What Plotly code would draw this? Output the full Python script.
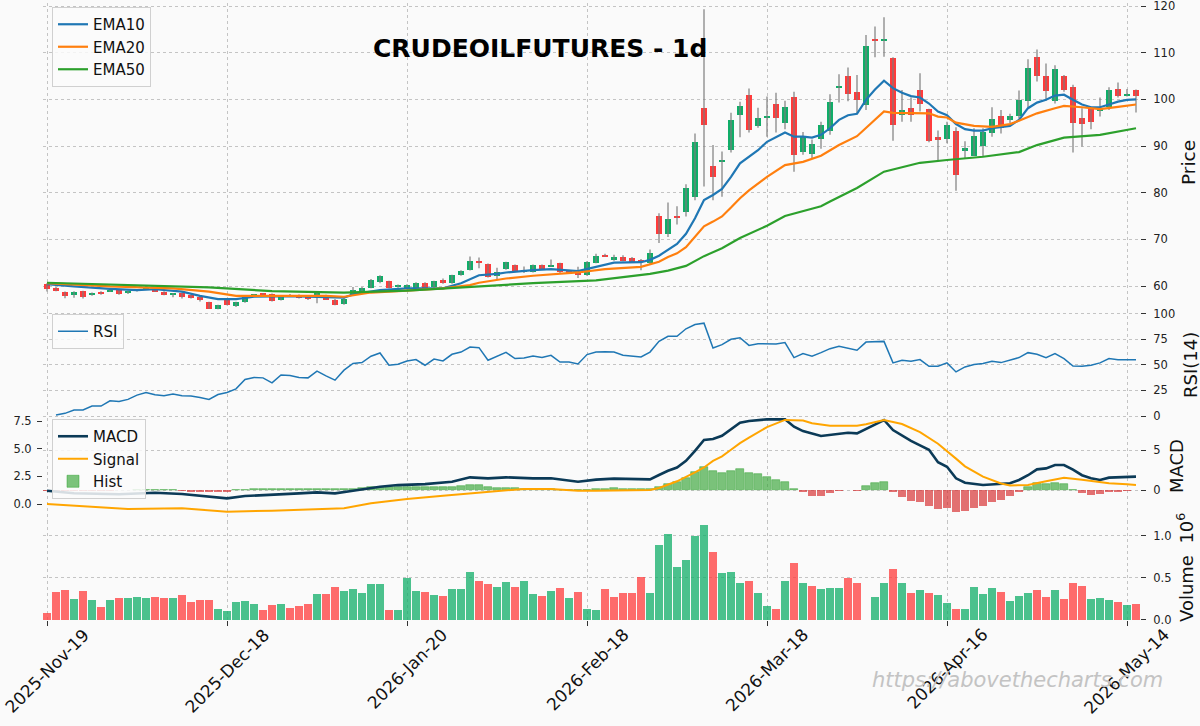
import plotly.graph_objects as go

# ---------------- data ----------------
tick_idx = [0, 20, 40, 60, 80, 100, 120]
tick_labels = ["2025-Nov-19", "2025-Dec-18", "2026-Jan-20", "2026-Feb-18",
               "2026-Mar-18", "2026-Apr-16", "2026-May-14"]

opens = [60.4, 59.6, 58.7, 58.0, 58.9, 58.0, 58.5, 58.8, 59.1, 58.4,
         59.0, 59.5, 59.3, 58.8, 58.3, 58.5, 58.0, 57.7, 56.5, 55.0,
         56.9, 55.8, 56.5, 57.9, 58.3, 58.3, 57.0, 57.9, 58.0, 57.5,
         57.9, 58.0, 57.1, 56.2, 58.1, 58.5, 59.6, 60.8, 61.0, 59.9,
         59.3, 59.6, 60.7, 59.7, 61.3, 60.6, 62.3, 63.4, 65.3, 64.7,
         62.2, 63.6, 64.4, 63.0, 63.0, 64.4, 64.2, 64.9, 63.2, 63.1,
         62.3, 65.0, 66.7, 65.6, 66.3, 65.9, 65.6, 64.9, 75.0, 71.1,
         74.8, 75.9, 79.0, 98.1, 85.8, 86.7, 89.1, 96.6, 100.9, 94.3,
         95.9, 99.0, 94.9, 100.4, 88.7, 88.3, 91.4, 93.3, 102.4, 105.0,
         101.6, 98.8, 112.9, 112.6, 108.8, 96.6, 98.1, 102.0, 97.9, 92.0,
         91.4, 93.2, 88.9, 87.9, 89.9, 92.7, 96.5, 95.6, 96.5, 99.7,
         109.0, 105.0, 99.7, 104.9, 102.7, 96.1, 98.1, 97.6, 98.3, 102.2,
         100.8, 102.0]
highs = [60.6, 59.8, 58.8, 58.9, 59.0, 58.6, 58.9, 59.3, 59.3, 59.0,
         59.3, 60.0, 59.4, 58.9, 58.5, 58.6, 58.1, 57.8, 56.6, 56.0,
         57.0, 56.6, 57.8, 58.3, 58.5, 58.4, 58.0, 58.3, 58.2, 57.9,
         58.6, 58.1, 57.2, 57.4, 59.8, 59.8, 61.5, 62.3, 61.1, 60.3,
         60.4, 60.8, 60.8, 61.1, 61.6, 62.4, 63.4, 66.3, 66.1, 64.8,
         63.9, 65.2, 64.6, 64.2, 64.6, 64.6, 65.7, 65.0, 63.4, 64.1,
         65.3, 66.9, 66.9, 66.7, 66.6, 66.2, 65.8, 67.8, 75.6, 77.9,
         77.1, 81.8, 92.7, 119.3, 90.2, 88.8, 97.1, 99.5, 102.3, 98.2,
         100.6, 101.4, 99.7, 101.6, 93.0, 91.4, 95.2, 101.1, 105.4, 106.8,
         105.2, 113.8, 115.6, 117.6, 109.0, 102.0, 100.4, 105.6, 98.0, 93.3,
         95.2, 94.0, 91.0, 93.8, 93.8, 98.3, 97.7, 96.9, 101.9, 108.6,
         110.7, 107.7, 107.3, 105.2, 103.1, 98.1, 98.4, 100.4, 102.6, 103.6,
         102.2, 102.1]
lows = [58.8, 58.9, 57.4, 57.5, 57.3, 57.9, 58.1, 58.7, 58.1, 58.3,
        58.8, 59.4, 58.7, 58.0, 57.6, 57.3, 57.3, 56.7, 55.1, 55.0,
        55.9, 55.5, 56.4, 57.8, 58.0, 56.7, 56.9, 57.7, 57.3, 57.0,
        56.3, 57.0, 55.9, 56.0, 58.0, 58.4, 59.5, 60.6, 59.5, 59.6,
        59.2, 59.5, 59.3, 59.6, 60.5, 60.5, 62.2, 63.3, 63.8, 61.8,
        61.3, 63.5, 63.0, 62.8, 62.9, 63.5, 64.1, 62.8, 62.8, 61.7,
        62.2, 64.9, 66.2, 65.4, 65.3, 65.0, 63.4, 64.7, 69.2, 70.5,
        73.2, 74.9, 78.4, 81.3, 78.4, 79.1, 88.6, 91.9, 92.9, 93.9,
        92.0, 92.9, 93.6, 84.5, 88.1, 87.4, 89.4, 92.4, 99.3, 99.6,
        96.9, 97.7, 109.0, 109.1, 91.1, 95.2, 95.2, 97.4, 90.8, 87.0,
        90.6, 80.4, 87.2, 87.9, 87.7, 92.0, 92.7, 94.9, 95.9, 98.3,
        103.8, 99.7, 99.1, 101.6, 88.6, 89.9, 93.6, 96.3, 97.7, 100.4,
        100.6, 97.2]
closes = [59.3, 59.0, 57.9, 58.8, 57.7, 58.5, 58.4, 59.2, 58.3, 58.9,
          59.1, 59.6, 58.8, 58.1, 58.4, 57.6, 57.5, 56.9, 55.1, 55.9,
          56.0, 56.5, 57.7, 58.2, 58.1, 56.8, 57.9, 57.8, 57.4, 57.3,
          58.5, 57.1, 56.0, 57.3, 59.1, 59.5, 61.2, 62.1, 59.6, 60.0,
          60.3, 60.7, 59.4, 61.0, 60.6, 62.3, 63.2, 65.4, 65.1, 62.0,
          63.1, 65.1, 63.1, 63.5, 64.4, 63.6, 64.6, 62.9, 63.0, 62.3,
          65.1, 66.4, 66.3, 66.2, 65.4, 65.2, 65.1, 67.0, 71.1, 74.4,
          74.6, 80.9, 90.8, 94.6, 83.3, 87.1, 95.6, 98.6, 93.4, 96.1,
          96.4, 96.1, 98.3, 88.0, 92.1, 90.4, 94.4, 99.5, 102.9, 101.1,
          99.9, 111.5, 112.4, 112.8, 94.4, 97.7, 96.6, 99.0, 91.0, 91.2,
          94.5, 83.8, 89.6, 92.1, 93.1, 95.8, 93.8, 96.4, 99.9, 106.8,
          104.9, 101.8, 106.4, 102.1, 95.0, 94.7, 95.2, 97.9, 102.1, 100.7,
          101.1, 100.8]
volume_m = [0.08, 0.33, 0.35, 0.24, 0.34, 0.23, 0.15, 0.23, 0.26, 0.26,
            0.27, 0.26, 0.27, 0.26, 0.26, 0.29, 0.21, 0.23, 0.23, 0.13,
            0.10, 0.21, 0.22, 0.18, 0.11, 0.17, 0.18, 0.14, 0.16, 0.19,
            0.30, 0.30, 0.39, 0.34, 0.36, 0.31, 0.42, 0.42, 0.11, 0.11,
            0.50, 0.34, 0.33, 0.29, 0.28, 0.36, 0.36, 0.57, 0.46, 0.42,
            0.39, 0.45, 0.39, 0.46, 0.30, 0.28, 0.34, 0.37, 0.26, 0.33,
            0.13, 0.11, 0.36, 0.27, 0.32, 0.31, 0.51, 0.32, 0.89, 1.02,
            0.62, 0.71, 1.00, 1.12, 0.80, 0.55, 0.56, 0.44, 0.46, 0.31,
            0.16, 0.13, 0.46, 0.67, 0.43, 0.40, 0.36, 0.38, 0.38, 0.50,
            0.44, 0.00, 0.27, 0.44, 0.60, 0.43, 0.32, 0.35, 0.32, 0.29,
            0.20, 0.13, 0.13, 0.39, 0.30, 0.37, 0.33, 0.22, 0.28, 0.32,
            0.35, 0.27, 0.35, 0.24, 0.43, 0.40, 0.25, 0.26, 0.23, 0.21,
            0.17, 0.18]

ema10_idx = [0, 3, 7, 10, 12, 15, 17, 19, 21, 23, 27, 31, 33, 34, 37, 40, 44, 46, 48, 50,
             51, 54, 56, 59, 61, 63, 66, 67, 68, 69, 70, 71, 72, 73, 74, 75, 76, 77, 79, 80,
             82, 83, 84, 85, 86, 87, 88, 89, 90, 91, 92, 93, 94, 95, 96, 97, 98, 99, 100, 101,
             102, 103, 104, 105, 106, 107, 108, 109, 110, 111, 112, 113, 114, 115, 116, 117, 118, 119, 120, 121]
ema10_val = [60.4, 59.9, 59.4, 59.1, 59.3, 58.8, 57.9, 57.2, 57.2, 57.7, 57.8, 57.7, 57.5, 58.2, 59.1, 59.5, 59.5, 60.6, 62.3, 62.6,
             62.9, 63.4, 63.6, 63.2, 64.1, 65.0, 65.1, 65.6, 66.5, 67.8, 69.0, 71.2, 74.5, 78.4, 79.5, 80.8, 83.4, 86.3, 89.1, 90.9,
             92.9, 92.0, 92.0, 91.8, 92.4, 93.8, 95.6, 96.6, 96.9, 99.9, 102.1, 104.0, 102.4, 101.4, 100.7, 100.4, 99.1, 97.4, 96.6, 94.7,
             93.6, 93.3, 93.3, 93.8, 94.1, 94.3, 95.6, 98.1, 99.3, 99.9, 100.8, 101.0, 99.9, 98.9, 98.3, 98.3, 98.9, 99.5, 99.9, 100.0]
ema20_idx = [0, 7, 14, 18, 21, 27, 31, 33, 36, 40, 44, 47, 48, 51, 54, 59, 62, 66, 68, 69,
             70, 71, 72, 73, 74, 75, 76, 77, 78, 79, 80, 82, 84, 86, 88, 90, 91, 92, 93, 94,
             97, 98, 99, 100, 101, 103, 105, 107, 108, 110, 112, 113, 115, 117, 119, 121]
ema20_val = [60.6, 59.9, 59.5, 58.8, 57.9, 57.9, 57.9, 57.7, 58.6, 59.0, 59.5, 60.2, 60.7, 61.6, 62.2, 62.9, 63.6, 64.1, 65.2, 66.2,
             67.0, 68.3, 70.5, 72.8, 73.8, 74.9, 76.8, 78.8, 80.5, 82.0, 83.4, 85.9, 86.6, 87.9, 90.2, 92.1, 93.8, 95.6, 97.4, 97.1,
             97.1, 97.0, 96.3, 96.1, 95.0, 94.3, 94.1, 94.7, 95.4, 97.0, 98.1, 98.6, 98.3, 97.9, 98.4, 98.9]
ema50_idx = [0, 10, 18, 25, 33, 40, 48, 54, 61, 67, 69, 71, 73, 75, 77, 80, 82, 84, 86, 87,
             90, 93, 97, 100, 104, 108, 110, 113, 117, 121]
ema50_val = [60.7, 60.1, 59.7, 58.9, 58.6, 59.0, 59.9, 60.6, 61.2, 62.6, 63.3, 64.3, 66.4, 68.1, 70.3, 72.9, 75.0, 76.1, 77.1, 78.1,
             81.0, 84.5, 86.4, 87.0, 87.7, 88.7, 90.2, 91.8, 92.4, 93.8]

rsi = [None, 1.0, 2.6, 5.8, 5.8, 9.7, 9.7, 14.9, 14.2, 16.2,
       20.4, 23.0, 20.7, 19.7, 21.4, 19.7, 19.4, 18.1, 16.2, 21.0,
       23.0, 26.5, 35.6, 37.6, 37.2, 32.4, 40.1, 39.5, 37.6, 37.2,
       43.7, 39.1, 35.0, 44.7, 51.2, 52.1, 58.3, 61.5, 49.5, 50.5,
       53.7, 55.0, 49.5, 55.6, 53.7, 60.2, 62.4, 67.3, 66.7, 54.4,
       58.3, 62.1, 56.0, 56.6, 58.5, 57.0, 59.2, 52.7, 52.7, 50.8,
       59.9, 62.4, 62.8, 62.4, 59.2, 58.2, 57.6, 62.4, 72.8, 77.7,
       77.7, 85.1, 89.3, 90.6, 66.3, 69.6, 74.8, 76.4, 68.9, 70.6,
       70.6, 70.2, 71.6, 57.0, 60.9, 58.3, 61.8, 65.7, 68.0, 66.3,
       64.1, 72.1, 72.5, 72.8, 51.8, 54.4, 53.4, 55.0, 48.5, 48.5,
       51.8, 43.0, 47.9, 50.2, 51.2, 53.4, 52.1, 54.4, 57.0, 61.8,
       60.2, 57.0, 60.9, 56.0, 48.8, 48.5, 49.5, 51.8, 56.0, 55.0,
       55.0, 55.0]

macd_idx = [0, 3, 8, 12, 15, 18, 20, 22, 25, 28, 30, 32, 34, 37, 39, 42, 45, 47, 49, 51,
            54, 56, 59, 61, 63, 65, 67, 68, 69, 70, 71, 72, 73, 74, 75, 77, 78, 80, 82, 83,
            84, 86, 88, 89, 90, 91, 93, 94, 95, 96, 97, 98, 99, 100, 101, 102, 104, 105, 107, 108,
            109, 110, 111, 112, 113, 114, 115, 116, 117, 118, 120, 121]
macd_val = [1.2, 0.97, 0.88, 1.02, 0.9, 0.66, 0.51, 0.72, 0.87, 0.96, 1.05, 0.96, 1.2, 1.56, 1.71, 1.8, 2.01, 2.41, 2.32, 2.41,
            2.32, 2.32, 2.01, 2.2, 2.29, 2.26, 2.23, 2.62, 3.0, 3.3, 3.9, 4.8, 5.78, 5.87, 6.17, 7.34, 7.5, 7.65, 7.65, 6.98,
            6.59, 6.14, 6.3, 6.44, 6.38, 6.8, 7.59, 6.68, 6.2, 5.7, 5.3, 4.9, 3.77, 3.37, 2.32, 1.92, 1.72, 1.78, 1.87, 2.17,
            2.6, 3.13, 3.22, 3.52, 3.52, 3.1, 2.6, 2.32, 2.17, 2.38, 2.47, 2.47]
signal_idx = [0, 3, 9, 15, 20, 25, 29, 33, 36, 40, 44, 47, 50, 53, 56, 59, 61, 67, 68, 70,
              72, 73, 74, 75, 76, 77, 78, 80, 82, 84, 85, 87, 90, 91, 93, 95, 97, 98, 99, 101,
              102, 104, 106, 107, 109, 111, 113, 115, 118, 120, 121]
signal_val = [0.0, -0.15, -0.45, -0.39, -0.69, -0.6, -0.48, -0.39, 0.06, 0.45, 0.75, 0.97, 1.2, 1.36, 1.36, 1.2, 1.2, 1.26, 1.45, 2.05,
              2.85, 3.3, 3.9, 4.3, 4.9, 5.5, 6.0, 6.95, 7.6, 7.55, 7.3, 7.07, 7.07, 7.2, 7.58, 7.23, 6.5, 6.0, 5.45, 4.1,
              3.4, 2.47, 1.85, 1.68, 1.72, 2.06, 2.38, 2.2, 1.88, 1.78, 1.72]
hist = [-0.12, -0.12, -0.10, -0.12, -0.10, -0.10, -0.08, -0.08, -0.05, -0.05,
        0.04, 0.05, 0.05, 0.05, 0.04, -0.15, -0.20, -0.22, -0.25, -0.25,
        -0.22, 0.03, 0.06, 0.08, 0.08, 0.08, 0.08, 0.08, 0.08, 0.08,
        0.08, 0.08, 0.08, 0.08, 0.10, 0.25, 0.42, 0.40, 0.42, 0.38,
        0.40, 0.42, 0.40, 0.38, 0.35, 0.40, 0.55, 0.62, 0.62, 0.42,
        0.30, 0.30, 0.30, 0.17, 0.17, 0.17, 0.17, 0.05, 0.05, 0.05,
        0.05, 0.08, 0.12, 0.20, 0.15, 0.10, 0.10, 0.15, 0.35, 0.75,
        0.96, 1.46, 2.20, 2.90, 2.37, 2.17, 2.37, 2.58, 2.17, 2.00,
        1.67, 1.25, 1.04, 0.13, -0.29, -0.70, -0.70, -0.42, -0.08, -0.02,
        -0.08, 0.50, 0.83, 1.04, -0.21, -0.83, -1.33, -1.46, -2.00, -2.33,
        -2.29, -2.75, -2.62, -2.29, -2.00, -1.46, -1.25, -0.75, -0.29, 0.42,
        0.83, 0.71, 0.92, 0.71, 0.02, -0.42, -0.62, -0.54, -0.29, -0.21,
        -0.08, -0.04]

# ---------------- styling / geometry ----------------
W, H = 1200, 726
BG = "#fafafa"
FONT = "DejaVu Sans"
UP, DN = "#10ad68", "#ff3b3b"
UP_V, DN_V = "rgba(16,173,104,0.75)", "rgba(255,59,59,0.75)"
GRID = dict(showgrid=True, gridcolor="#c4c4c4", griddash="dot", gridwidth=1)


def py(p):
    return 1 - p / H


X0, X1 = 43, 1140
XR = [(X0 - 47) / 9, (X1 - 47) / 9]

n = len(closes)
idx = list(range(n))

cand_col = [UP if c >= o else DN for o, c in zip(opens, closes)]
vol_col = []
for i in idx:
    ref = opens[0] if i == 0 else closes[i - 1]
    vol_col.append(UP_V if closes[i] >= ref else DN_V)

fig = go.Figure()

# ---- price panel ----
wx, wy = [], []
for i in idx:
    wx += [i, i, None]
    wy += [lows[i], highs[i], None]
fig.add_trace(go.Scatter(x=wx, y=wy, mode="lines", line=dict(color="#7d7d7d", width=1.2),
                         xaxis="x", yaxis="y", showlegend=False, hoverinfo="skip"))
mind = 0.22
base, hgt = [], []
for o, c in zip(opens, closes):
    lo, hi = min(o, c), max(o, c)
    if hi - lo < mind:
        m = (hi + lo) / 2
        lo, hi = m - mind / 2, m + mind / 2
    base.append(lo)
    hgt.append(hi - lo)
fig.add_trace(go.Bar(x=idx, y=hgt, base=base, width=0.74, marker=dict(color=cand_col, line=dict(width=0)),
                     xaxis="x", yaxis="y", showlegend=False, hoverinfo="skip"))
for nm, ix, vals, col in [("EMA10", ema10_idx, ema10_val, "#1f77b4"),
                          ("EMA20", ema20_idx, ema20_val, "#ff7f0e"),
                          ("EMA50", ema50_idx, ema50_val, "#2ca02c")]:
    fig.add_trace(go.Scatter(x=ix, y=vals, mode="lines", name=nm, line=dict(color=col, width=2.2),
                             xaxis="x", yaxis="y", legend="legend"))

# ---- RSI panel ----
fig.add_trace(go.Scatter(x=idx, y=rsi, mode="lines", name="RSI", line=dict(color="#1f77b4", width=1.5),
                         xaxis="x2", yaxis="y2", legend="legend2"))

# ---- MACD panel ----
fig.add_trace(go.Scatter(x=macd_idx, y=macd_val, mode="lines", name="MACD", line=dict(color="#0b3a57", width=2.6),
                         xaxis="x3", yaxis="y4", legend="legend3", legendrank=1))
fig.add_trace(go.Scatter(x=signal_idx, y=signal_val, mode="lines", name="Signal", line=dict(color="#ffa500", width=2.0),
                         xaxis="x3", yaxis="y4", legend="legend3", legendrank=2))
hp_x = [i for i in idx if hist[i] >= 0]
hp_y = [hist[i] for i in hp_x]
hn_x = [i for i in idx if hist[i] < 0]
hn_y = [hist[i] for i in hn_x]
fig.add_trace(go.Bar(x=hp_x, y=hp_y, width=0.8, name="Hist",
                     marker=dict(color="rgba(44,160,44,0.62)", line=dict(color="rgba(44,160,44,0.8)", width=0.6)),
                     xaxis="x3", yaxis="y3", legend="legend3", legendrank=3))
fig.add_trace(go.Bar(x=hn_x, y=hn_y, width=0.8, showlegend=False,
                     marker=dict(color="rgba(214,39,40,0.65)", line=dict(width=0)),
                     xaxis="x3", yaxis="y3"))

# ---- volume panel ----
fig.add_trace(go.Bar(x=idx, y=volume_m, width=0.95, showlegend=False,
                     marker=dict(color=vol_col, line=dict(width=0)),
                     xaxis="x4", yaxis="y5"))

# ---------------- layout ----------------
xcommon = dict(range=XR, domain=[X0 / W, X1 / W], tickvals=tick_idx, zeroline=False, showline=False,
               automargin=False, **GRID)
tickfont = dict(family=FONT, size=11.5, color="#222")
ycommon = dict(side="right", zeroline=False, showline=False, ticks="outside", ticklen=5, tickwidth=1,
               tickcolor="#333", tickfont=tickfont, ticklabelstandoff=5, automargin=False,
               ticklabeloverflow="allow", **GRID)

# pixel calibration
P_top, P_bot = 3, 310
R_bot = 418
M_bot = 521
V_bot = 620
price_rng = [60 - (P_bot - 286) / (280 / 60), 120 + (6 - P_top) / (280 / 60)]
rsi_rng = [-(R_bot - 416) / 1.025, 100 + (313.5 - P_bot) / 1.025]
hist_rng = [-(M_bot - 490) / 8.0, (490 - R_bot) / 8.0]
macd_rng = [-(M_bot - 504) / (83 / 7.5), (504 - R_bot) / (83 / 7.5)]
vol_rng = [-(V_bot - 619.5) / 84.0, (619.5 - M_bot) / 84.0]

legend_common = dict(xanchor="left", yanchor="top", bgcolor="rgba(250,250,250,0.85)", bordercolor="#d0d0d0",
                     borderwidth=1, font=dict(family=FONT, size=15, color="#111"), itemwidth=30,
                     tracegroupgap=0)

fig.update_layout(
    width=W, height=H, margin=dict(l=0, r=0, t=0, b=0, autoexpand=False),
    paper_bgcolor=BG, plot_bgcolor=BG, barmode="overlay", bargap=0,
    font=dict(family=FONT, color="#222"),
    hovermode=False,
    xaxis=dict(anchor="y", showticklabels=False, ticks="", **xcommon),
    xaxis2=dict(anchor="y2", matches="x", showticklabels=False, ticks="", **xcommon),
    xaxis3=dict(anchor="y3", matches="x", showticklabels=False, ticks="", **xcommon),
    xaxis4=dict(anchor="y5", matches="x", showticklabels=False,
                ticks="outside", ticklen=5, tickcolor="#333", **xcommon),
    yaxis=dict(domain=[py(P_bot), py(P_top)], range=price_rng, anchor="x",
               tickvals=[60, 70, 80, 90, 100, 110, 120], **ycommon),
    yaxis2=dict(domain=[py(R_bot), py(P_bot)], range=rsi_rng, anchor="x2",
                tickvals=[0, 25, 50, 75, 100], **ycommon),
    yaxis3=dict(domain=[py(M_bot), py(R_bot)], range=hist_rng, anchor="x3",
                tickvals=[0, 5], **ycommon),
    yaxis4=dict(overlaying="y3", anchor="x3", side="left", range=macd_rng, showgrid=False, zeroline=False,
                showline=False, ticks="outside", ticklen=5, tickcolor="#333", tickfont=tickfont,
                tickvals=[0, 2.5, 5, 7.5], tickformat=".1f", ticklabelstandoff=3, automargin=False,
                ticklabeloverflow="allow"),
    yaxis5=dict(domain=[py(V_bot), py(M_bot)], range=vol_rng, anchor="x4",
                tickvals=[0, 0.5, 1.0], tickformat=".1f", **ycommon),
    legend=dict(x=52 / W, y=py(7), **legend_common),
    legend2=dict(x=52 / W, y=py(314), **legend_common),
    legend3=dict(x=52 / W, y=py(419), **legend_common),
)

# date labels: rotated 45 degrees, centred under each tick (matplotlib style)
for ti, tl in zip(tick_idx, tick_labels):
    fig.add_annotation(x=ti, xref="x4", y=py(622), yref="paper", text=tl, showarrow=False,
                       textangle=-45, xanchor="center", yanchor="top",
                       font=dict(family=FONT, size=17, color="#111"))

ann = [
    dict(text="<b>CRUDEOILFUTURES - 1d</b>", x=540 / W, y=py(49), font=dict(family=FONT, size=25, color="#000")),
    dict(text="Price", x=1188 / W, y=py(163), textangle=-90, font=dict(family=FONT, size=18.5, color="#111")),
    dict(text="RSI(14)", x=1190 / W, y=py(365), textangle=-90, font=dict(family=FONT, size=18, color="#111")),
    dict(text="MACD", x=1176 / W, y=py(466), textangle=-90, font=dict(family=FONT, size=18, color="#111")),
    dict(text="Volume  10<sup>6</sup>", x=1185 / W, y=py(568), textangle=-90,
         font=dict(family=FONT, size=18, color="#111")),
    dict(text="<i>https://abovethecharts.com</i>", x=1017 / W, y=py(680),
         font=dict(family=FONT, size=21, color="#c3c3c3")),
]
for a in ann:
    fig.add_annotation(xref="paper", yref="paper", showarrow=False, xanchor="center", yanchor="middle", **a)

fig.write_html("out.html")
